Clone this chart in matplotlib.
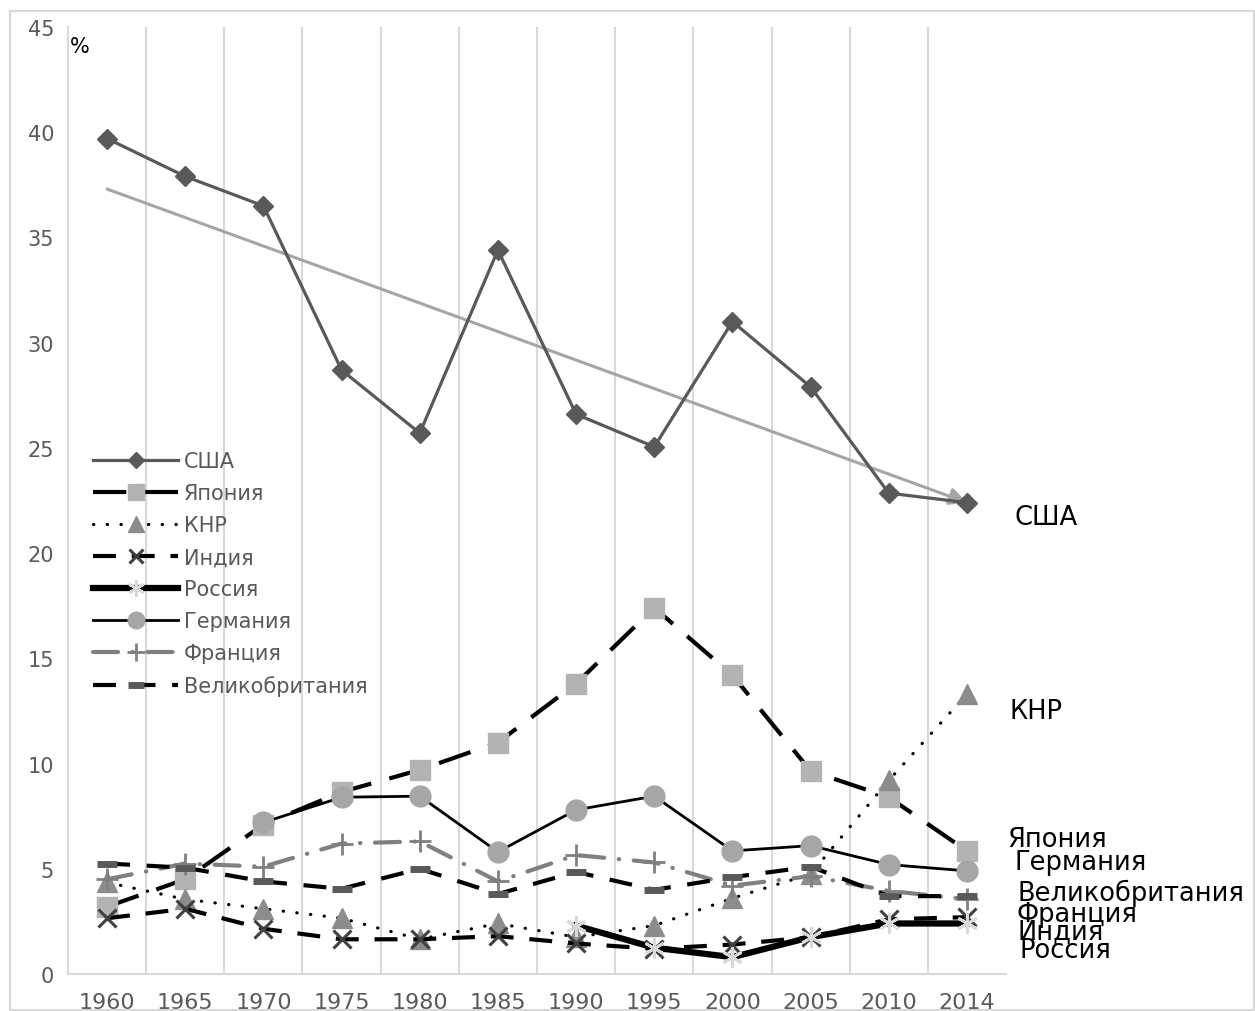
import matplotlib.pyplot as plt
from matplotlib.patches import Rectangle, FancyArrowPatch

plt.rcParams["font.family"] = ["DejaVu Sans"]

# Share of world GDP, %
years = ["1960", "1965", "1970", "1975", "1980", "1985",
         "1990", "1995", "2000", "2005", "2010", "2014"]

usa = [39.7, 37.9, 36.5, 28.7, 25.7, 34.4, 26.6, 25.05, 31.0, 27.9, 22.85, 22.4]
japan = [3.2, 4.5, 7.1, 8.65, 9.7, 11.0, 13.8, 17.4, 14.2, 9.65, 8.4, 5.85]
china = [4.35, 3.55, 3.1, 2.65, 1.65, 2.4, 1.75, 2.3, 3.6, 4.75, 9.2, 13.3]
india = [2.65, 3.1, 2.15, 1.65, 1.65, 1.8, 1.45, 1.2, 1.4, 1.75, 2.6, 2.7]
russia = [None, None, None, None, None, None, 2.3, 1.25, 0.8, 1.75, 2.4, 2.4]
germany = [None, None, 7.2, 8.4, 8.45, 5.8, 7.8, 8.45, 5.85, 6.1, 5.2, 4.9]
france = [4.5, 5.25, 5.1, 6.2, 6.3, 4.4, 5.65, 5.3, 4.2, 4.65, 3.95, 3.55]
uk = [5.25, 5.05, 4.4, 4.05, 5.0, 3.8, 4.85, 4.0, 4.6, 5.1, 3.7, 3.7]

# USA trend arrow, start (1960) and end (2014) levels
usa_trend = [37.3, 22.4]

names = ["США", "Япония", "КНР", "Индия", "Россия",
         "Германия", "Франция", "Великобритания"]

# side labels: (text, y in %)
side_labels = [("США", 21.7), ("КНР", 12.5), ("Япония", 6.4), ("Германия", 5.3),
               ("Великобритания", 3.9), ("Франция", 2.85), ("Индия", 2.05),
               ("Россия", 1.15)]
side_x = [11.61, 11.54, 11.52, 11.61, 11.65, 11.63, 11.65, 11.67]

W, H = 1255, 1012
fig = plt.figure(figsize=(W / 100, H / 100), dpi=100)

# thin frame around the whole figure
fig.patches.append(Rectangle((10 / W, 1 / H), (W - 11) / W, (H - 13) / H,
                             transform=fig.transFigure, fill=False,
                             edgecolor="#d9d9d9", linewidth=1.5))

ax = fig.add_axes([68 / W, (H - 975) / H, (1006 - 68) / W, (975 - 28) / H])
x = list(range(len(years)))

ax.set_xlim(-0.5, len(years) - 0.5)
ax.set_ylim(0, 45)
ax.set_yticks(range(0, 46, 5))
ax.set_xticks(x)
ax.set_xticklabels(years)
ax.tick_params(length=0, labelcolor="#595959", labelsize=15)
ax.tick_params(axis="y", pad=10)
ax.tick_params(axis="x", pad=13, labelsize=16)
for s in ["top", "right"]:
    ax.spines[s].set_visible(False)
for s in ["left", "bottom"]:
    ax.spines[s].set_color("#d9d9d9")
    ax.spines[s].set_linewidth(1.5)

# vertical separators between categories
for g in range(len(years) - 1):
    ax.axvline(g + 0.5, color="#d9d9d9", linewidth=1.5, zorder=0)

ax.text(-0.47, 44.1, "%", fontsize=15, color="black", va="center")

lines = []
lines += ax.plot(x, usa, color="#595959", lw=2.3, marker="D", ms=10,
                 mfc="#595959", mec="#595959")
lines += ax.plot(x, japan, color="black", lw=3, dashes=(8, 4.5),
                 marker="s", ms=15, mfc="#b3b3b3", mec="#b3b3b3")
lines += ax.plot(x, china, color="black", lw=2.3, dashes=(0.1, 4.2),
                 dash_capstyle="round", marker="^", ms=15,
                 mfc="#8c8c8c", mec="#8c8c8c")
lines += ax.plot(x, india, color="black", lw=3, dashes=(5.5, 3.8),
                 marker="x", ms=13, mew=2.2, mec="#404040")
lines += ax.plot(x, russia, color="black", lw=4.5,
                 marker=(6, 2, 0), ms=15, mew=2, mec="#d9d9d9")
lines += ax.plot(x, germany, color="black", lw=2,
                 marker="o", ms=15, mfc="#a6a6a6", mec="#a6a6a6")
lines += ax.plot(x, france, color="#808080", lw=3, dashes=(6, 3.5, 0.1, 3.5),
                 dash_capstyle="round", marker="+", ms=16, mew=2,
                 mec="#808080")
lines += ax.plot(x, uk, color="black", lw=3, dashes=(5.5, 4),
                 marker="_", ms=14, mew=5, mec="#595959")

# USA trend
arrow = FancyArrowPatch((x[0], usa_trend[0]), (x[-1], usa_trend[1]),
                        arrowstyle="-|>", mutation_scale=26,
                        color="#a6a6a6", linewidth=2.2, zorder=1.5,
                        shrinkA=0, shrinkB=0)
ax.add_patch(arrow)

for (txt, yv), xv in zip(side_labels, side_x):
    ax.text(xv, yv, txt, fontsize=18.5, color="black", va="center",
            ha="left", clip_on=False)

leg = fig.legend(lines, names, loc="upper left",
                 bbox_to_anchor=(93 / W, 1 - 452 / H), frameon=False,
                 fontsize=15, handlelength=4.1, handletextpad=0.25,
                 labelspacing=0.58, borderpad=0, borderaxespad=0,
                 markerscale=0.8)
for t in leg.get_texts():
    t.set_color("#595959")

fig.savefig("out.png", dpi=100)
